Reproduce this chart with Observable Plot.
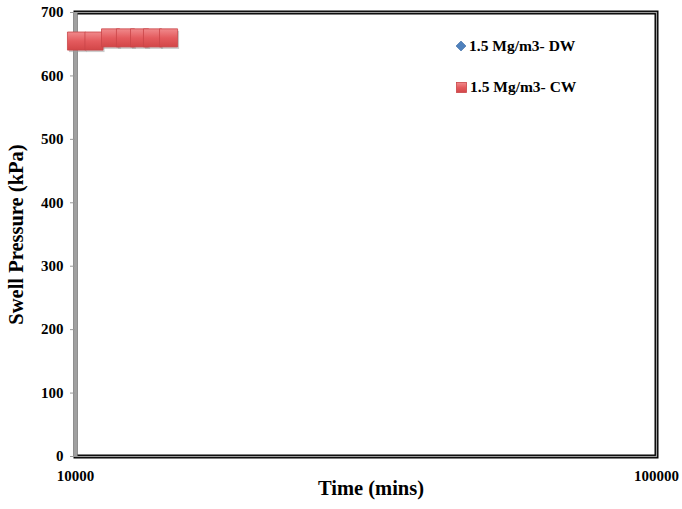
<!DOCTYPE html>
<html>
<head>
<meta charset="utf-8">
<script src="https://cdn.jsdelivr.net/npm/d3@7"></script>
<script src="https://cdn.jsdelivr.net/npm/@observablehq/plot@0.6"></script>
<style>
  body { margin: 0; background: #fff; }
  #wrap { position: relative; width: 682px; height: 509px; font-family: "Liberation Serif", "Times New Roman", serif; }
  .leg { position: absolute; font-weight: bold; font-size: 15.5px; color: #000; display: flex; align-items: center; }
  .leg .sym { display: inline-block; margin-right: 3px; }
</style>
</head>
<body>
<div id="wrap"></div>
<script>
// Data
const timeCW = [10040, 10760, 11490, 12190, 12890, 13570, 14460];
const pressCW = [655, 655, 660, 660, 660, 660, 660];
const timeDW = [];
const pressDW = [];
const xTicks = [10000, 100000];
const yTicks = [0, 100, 200, 300, 400, 500, 600, 700];
const seriesNames = ["1.5 Mg/m3- DW", "1.5 Mg/m3- CW"];

const cw = timeCW.map((t, i) => ({t, p: pressCW[i]}));
const dw = timeDW.map((t, i) => ({t, p: pressDW[i]}));

const defs = () => {
  const ns = "http://www.w3.org/2000/svg";
  const d = document.createElementNS(ns, "defs");
  d.innerHTML = `<linearGradient id="redgrad" x1="0" y1="0" x2="0" y2="1">
      <stop offset="0" stop-color="#f08a8c"/>
      <stop offset="0.5" stop-color="#e45b5e"/>
      <stop offset="1" stop-color="#d24648"/>
    </linearGradient>`;
  return d;
};

const chart = Plot.plot({
  width: 682,
  height: 509,
  marginLeft: 75,
  marginRight: 26,
  marginTop: 12,
  marginBottom: 53,
  style: {fontFamily: "'Liberation Serif', 'Times New Roman', serif", fontWeight: "bold", fontSize: "15px", color: "#000", background: "#fff"},
  x: {type: "log", domain: [10000, 100000]},
  y: {domain: [0, 700]},
  marks: [
    defs,
    Plot.frame({stroke: "#000", strokeWidth: 4}),
    Plot.frame({stroke: "#9a9a9a", strokeWidth: 1.2}),
    Plot.ruleX([10000], {stroke: "#a0a0a0", strokeWidth: 4}),
    Plot.axisY({ticks: yTicks, tickSize: 5, tickPadding: 7, stroke: "#999", label: null, fontSize: 15, fontWeight: "bold", fill: "#000"}),
    Plot.axisX({ticks: xTicks, tickFormat: d => String(d), tickSize: 0, tickPadding: 14, label: null, fontSize: 15, fontWeight: "bold", fill: "#000"}),
    Plot.text(["Swell Pressure (kPa)"], {frameAnchor: "left", textAnchor: "middle", dx: -59, rotate: -90, fontSize: 20.5, fontWeight: "bold", fill: "#000"}),
    Plot.text(["Time (mins)"], {frameAnchor: "bottom", textAnchor: "middle", dx: 5, dy: 38, fontSize: 20.5, fontWeight: "bold", fill: "#000"}),
    Plot.dot(cw, {x: "t", y: "p", symbol: "square", r: 10.2, fill: "#999", fillOpacity: 0.5, stroke: "none", dx: 1.5, dy: 2}),
    Plot.dot(cw, {x: "t", y: "p", symbol: "square", r: 10.2, fill: "url(#redgrad)", stroke: "#c94548", strokeWidth: 0.8}),
    Plot.dot(dw, {x: "t", y: "p", symbol: "diamond2", r: 4, fill: "#4f81bd", stroke: "#3c6aa3"})
  ]
});
const wrap = document.getElementById("wrap");
wrap.appendChild(chart);

const legItems = [
  {name: seriesNames[0], top: 37, sym: '<svg class="sym" width="10" height="10" viewBox="0 0 10 10"><path d="M5 0 L10 5 L5 10 L0 5 Z" fill="#4f81bd" stroke="#3c6aa3" stroke-width="0.6"/></svg>'},
  {name: seriesNames[1], top: 78, sym: '<svg class="sym" width="11" height="11" viewBox="0 0 11 11"><rect x="0.5" y="0.5" width="10" height="10" fill="url(#redgrad)" stroke="#c94548" stroke-width="0.8"/></svg>'}
];
legItems.forEach(it => {
  const d = document.createElement("div");
  d.className = "leg";
  d.style.left = "456px";
  d.style.top = it.top + "px";
  d.innerHTML = it.sym + "<span>" + it.name + "</span>";
  wrap.appendChild(d);
});
</script>
</body>
</html>
